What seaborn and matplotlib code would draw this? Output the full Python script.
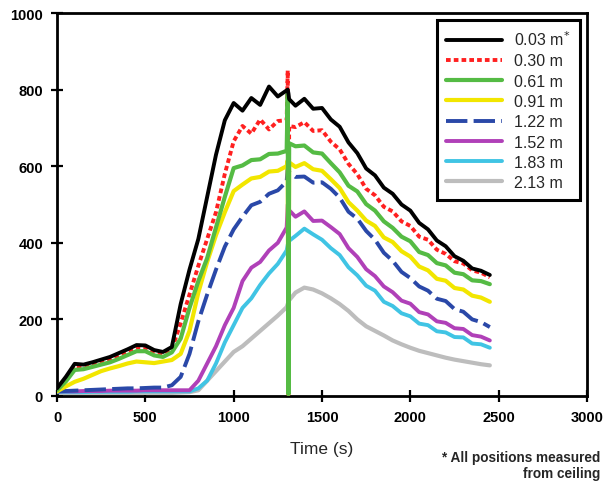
import matplotlib
matplotlib.use("Agg")
import matplotlib.pyplot as plt
import seaborn as sns
import pandas as pd

# ---- data ----
time_s = [0, 50, 100, 150, 200, 250, 300, 350, 400, 450, 500, 550, 600, 650, 700, 750,
          800, 850, 900, 950, 1000, 1050, 1100, 1150, 1200, 1250,
          1300, 1306, 1310, 1314,
          1350, 1400, 1450, 1500, 1550, 1600, 1650, 1700, 1750, 1800, 1850, 1900, 1950,
          2000, 2050, 2100, 2150, 2200, 2250, 2300, 2350, 2400, 2450]

t_003 = [20, 50, 84, 82, 88, 95, 102, 112, 122, 133, 132, 120, 115, 128, 240, 330,
         410, 520, 630, 720, 765, 745, 778, 760, 808, 782,
         798, 800, 790, 775,
         758, 776, 750, 752, 722, 703, 662, 634, 594, 576, 544, 528, 500,
         484, 452, 435, 406, 391, 365, 353, 333, 327, 316]

t_030 = [18, 45, 78, 78, 84, 90, 97, 106, 117, 127, 126, 114, 110, 122, 190, 265,
         340, 410, 480, 580, 665, 705, 685, 722, 696, 718,
         720, 850, 5, 705,
         702, 715, 692, 694, 664, 644, 606, 579, 541, 524, 494, 482, 456,
         444, 416, 408, 382, 371, 352, 346, 328, 322, 310]

t_061 = [15, 38, 68, 70, 76, 82, 88, 97, 107, 117, 117, 106, 102, 114, 150, 230,
         300, 360, 440, 520, 595, 602, 616, 618, 632, 633,
         640, 790, 5, 660,
         652, 654, 636, 633, 608, 584, 549, 534, 501, 484, 456, 439, 416,
         404, 376, 368, 347, 341, 322, 318, 302, 300, 292]

t_091 = [12, 25, 37, 45, 55, 65, 72, 78, 85, 90, 88, 86, 90, 94, 110, 170,
         270, 350, 420, 480, 535, 552, 568, 572, 586, 588,
         600, 615, 5, 610,
         598, 608, 592, 588, 566, 543, 506, 484, 458, 444, 414, 402, 378,
         364, 338, 328, 306, 301, 282, 278, 262, 257, 246]

t_122 = [12, 13, 14, 15, 16, 17, 18, 19, 20, 20, 21, 22, 22, 28, 50, 110,
         195, 265, 330, 390, 435, 468, 498, 507, 528, 537,
         560, 600, 595, 585,
         572, 573, 557, 558, 541, 518, 481, 463, 431, 408, 374, 353, 324,
         308, 286, 275, 254, 248, 227, 220, 200, 193, 180]

t_152 = [12, 12, 12, 13, 13, 13, 14, 14, 14, 14, 15, 15, 15, 15, 15, 15,
         40, 85, 130, 185, 230, 300, 335, 350, 380, 400,
         440, 500, 495, 485,
         468, 482, 457, 458, 441, 423, 386, 363, 331, 313, 286, 271, 249,
         241, 219, 213, 195, 191, 177, 175, 159, 155, 145]

t_183 = [10, 10, 10, 10, 11, 11, 11, 11, 11, 12, 12, 12, 12, 12, 12, 12,
         20, 40, 85, 140, 185, 230, 255, 290, 320, 345,
         380, 395, 400, 405,
         418, 437, 422, 408, 386, 368, 336, 315, 288, 275, 246, 235, 216,
         208, 189, 185, 169, 166, 154, 153, 137, 135, 126]

t_213 = [8, 8, 8, 8, 8, 8, 8, 8, 8, 8, 8, 8, 8, 8, 9, 10,
         15, 40, 65, 90, 115, 130, 150, 170, 190, 210,
         232, 240, 245, 250,
         270, 283, 278, 268, 255, 240, 222, 200, 182, 170, 158, 145, 135,
         126, 118, 112, 106, 100, 95, 91, 87, 83, 80]

labels = ["0.03 m$^{*}$", "0.30 m", "0.61 m", "0.91 m", "1.22 m", "1.52 m", "1.83 m", "2.13 m"]
series = [t_003, t_030, t_061, t_091, t_122, t_152, t_183, t_213]
x_ticks = [0, 500, 1000, 1500, 2000, 2500, 3000]
y_ticks = [0, 200, 400, 600, 800, 1000]

# ---- styling ----
sns.set_theme(style="ticks")
plt.rcParams["font.family"] = ["Liberation Sans", "DejaVu Sans"]

colors = ["#000000", "#ff2020", "#55bb44", "#f2e600", "#2a48a8", "#b040b8", "#40c4e4", "#bdbdbd"]
styles = ["-", (0, (1.2, 0.8)), "-", "-", (0, (5.5, 1.6)), "-", "-", "-"]
widths = [2.8, 2.8, 3.0, 3.0, 2.8, 2.8, 2.8, 3.0]
zorders = [9, 7, 8, 6, 5, 4, 3, 2]

fig = plt.figure(figsize=(6.05, 4.85), dpi=100)
ax = fig.add_axes([57 / 605, 1 - 397 / 485, 530 / 605, 383 / 485])

for vals, lab, c, ls, lw, z in zip(series, labels, colors, styles, widths, zorders):
    df = pd.DataFrame({"t": time_s, "v": vals})
    sns.lineplot(data=df, x="t", y="v", ax=ax, color=c, linestyle=ls, linewidth=lw,
                 label=lab, estimator=None, zorder=z)

ax.set_xlim(0, 3000)
ax.set_ylim(0, 1000)
ax.set_xticks(x_ticks)
ax.set_yticks(y_ticks)
ax.set_xlabel("Time (s)", fontsize=12.5, labelpad=12)
ax.set_ylabel("")
for s in ax.spines.values():
    s.set_linewidth(2)
    s.set_color("black")
ax.tick_params(direction="inout", length=8, width=1.6, labelsize=10.5, pad=6, colors="black")
for lbl in ax.get_xticklabels() + ax.get_yticklabels():
    lbl.set_fontweight("bold")

handles, labs = ax.get_legend_handles_labels()
leg = ax.legend(handles, labs, loc="upper right", bbox_to_anchor=(0.987, 0.982),
                borderaxespad=0, fontsize=11.5, handlelength=3.5, handletextpad=0.75,
                labelspacing=0.33, borderpad=0.6, frameon=True, fancybox=False,
                framealpha=1, edgecolor="black")
leg.get_frame().set_linewidth(2.2)
leg.set_zorder(20)

fig.text(0.992, 1 - 458 / 485, "* All positions measured", ha="right", va="center",
         fontsize=9.8, fontweight="bold")
fig.text(0.992, 1 - 474 / 485, "from ceiling", ha="right", va="center",
         fontsize=9.8, fontweight="bold")

fig.savefig("out.png", dpi=100)
